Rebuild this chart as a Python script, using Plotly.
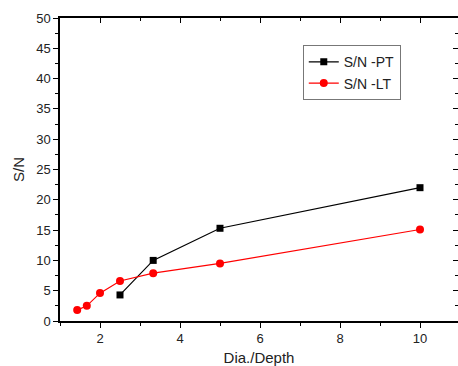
import plotly.graph_objects as go

pt_x = [2.5, 3.33, 5, 10]
pt_y = [4.3, 10.0, 15.3, 22.0]
lt_x = [1.43, 1.67, 2, 2.5, 3.33, 5, 10]
lt_y = [1.8, 2.5, 4.6, 6.6, 7.9, 9.5, 15.1]

fig = go.Figure()
fig.add_trace(go.Scatter(x=pt_x, y=pt_y, mode="lines+markers", name="S/N -PT",
                         line=dict(color="black", width=1.2),
                         marker=dict(symbol="square", size=7, color="black")))
fig.add_trace(go.Scatter(x=lt_x, y=lt_y, mode="lines+markers", name="S/N -LT",
                         line=dict(color="red", width=1.2),
                         marker=dict(symbol="circle", size=8, color="red")))

xr = [1, 10.95]
yr = [0, 50]
font = dict(family="Liberation Sans, Arial", size=13, color="#222")

fig.update_layout(
    width=458, height=366,
    margin=dict(l=60, r=0, t=18, b=45, autoexpand=False),
    paper_bgcolor="white", plot_bgcolor="white",
    font=font,
    showlegend=True,
    legend=dict(x=0.61, y=0.91, xanchor="left", yanchor="top",
                bordercolor="#777", borderwidth=1, bgcolor="white",
                font=dict(family="Liberation Sans, Arial", size=14, color="#222"),
                tracegroupgap=0, itemwidth=30),
    xaxis=dict(range=xr, showline=True, linecolor="black", linewidth=1.5, automargin=False,
               ticks="outside", ticklen=5, tickwidth=1.2, tickcolor="black",
               dtick=2, tick0=0, showgrid=False, zeroline=False,
               minor=dict(ticks="outside", dtick=1, ticklen=3, tickcolor="black", showgrid=False),
               title=dict(text="Dia./Depth", font=dict(size=15), standoff=10)),
    yaxis=dict(range=yr, showline=True, linecolor="black", linewidth=1.5, automargin=False,
               ticks="outside", ticklen=5, tickwidth=1.2, tickcolor="black",
               dtick=5, showgrid=False, zeroline=False,
               minor=dict(ticks="outside", dtick=2.5, ticklen=3, tickcolor="black", showgrid=False),
               title=dict(text="S/N", font=dict(size=15), standoff=8)),
    xaxis2=dict(range=xr, overlaying="x", side="top", showline=True, linecolor="black",
                linewidth=1.5, ticks="inside", ticklen=5, tickwidth=1.2, tickcolor="black", automargin=False,
                dtick=2, tick0=0, showticklabels=False, showgrid=False, zeroline=False,
                minor=dict(ticks="inside", dtick=1, ticklen=3, tickcolor="black", showgrid=False)),
    yaxis2=dict(range=yr, overlaying="y", side="right", showline=True, linecolor="black",
                linewidth=1.5, ticks="inside", ticklen=5, tickwidth=1.2, tickcolor="black", automargin=False,
                dtick=5, showticklabels=False, showgrid=False, zeroline=False,
                minor=dict(ticks="inside", dtick=2.5, ticklen=3, tickcolor="black", showgrid=False)),
)
fig.add_trace(go.Scatter(x=[None], y=[None], xaxis="x2", yaxis="y2", showlegend=False, hoverinfo="skip"))
fig.write_html("out.html", config={"displayModeBar": False},
               post_script="document.body.style.margin='0';document.body.style.overflow='hidden';")
